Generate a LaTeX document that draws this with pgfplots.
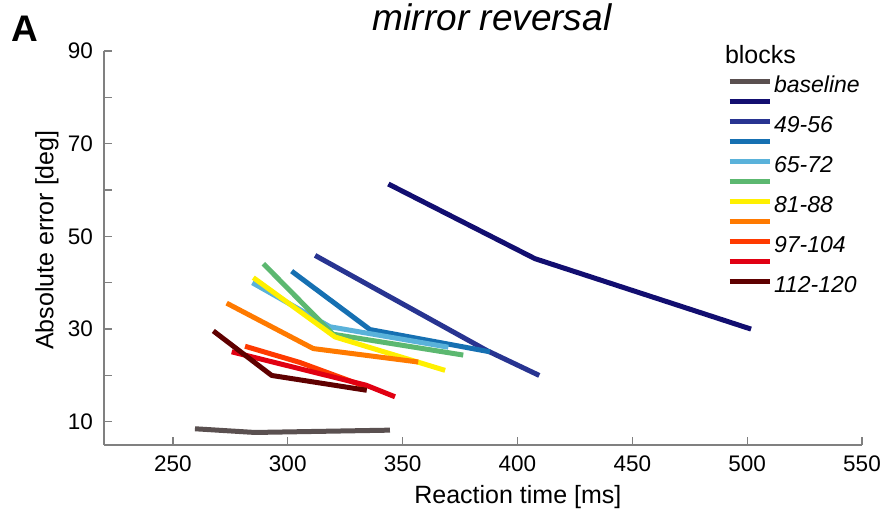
\documentclass[border=0pt]{standalone}
\usepackage{pgfplots}
\pgfplotsset{compat=1.18}
\usepackage{fontspec}
\setmainfont{Liberation Sans}
\usetikzlibrary{calc}
\definecolor{cbase}{RGB}{90,80,80}
\definecolor{c1}{RGB}{18,14,112}
\definecolor{c2}{RGB}{40,52,145}
\definecolor{c3}{RGB}{22,112,178}
\definecolor{c4}{RGB}{90,178,218}
\definecolor{c5}{RGB}{92,184,112}
\definecolor{c6}{RGB}{255,240,0}
\definecolor{c7}{RGB}{255,122,0}
\definecolor{c8}{RGB}{255,58,0}
\definecolor{c9}{RGB}{225,0,18}
\definecolor{c10}{RGB}{95,0,0}
\begin{document}
\begin{tikzpicture}
\begin{axis}[name=ax, scale only axis, width=758pt, height=394pt,
  xmin=220, xmax=550, ymin=5, ymax=90, clip=false,
  axis x line*=bottom, axis y line*=left,
  axis line style={draw=black!50, line width=1.3pt, -},
  xtick={250,300,...,550}, ytick={10,20,...,90},
  yticklabels={10,,30,,50,,70,,90},
  tick align=inside, major tick length=8pt,
  tick style={draw=black!50, line width=1.3pt},
  /pgf/number format/assume math mode=true,
  ticklabel style={font=\fontsize{22.5}{27}\selectfont, inner sep=0pt},
  xticklabel style={yshift=-11pt},
  yticklabel style={xshift=-11pt},
  xlabel={Reaction time [ms]}, ylabel={Absolute error [deg]},
  label style={font=\fontsize{25}{30}\selectfont},
  xlabel style={at={(axis description cs:0.546,-0.132)}, anchor=center},
  ylabel style={at={(axis description cs:-0.0752,0.52)}, anchor=center},
  title={\itshape mirror reversal},
  title style={at={(axis description cs:0.512,1.036)}, anchor=base, font=\fontsize{37}{40}\selectfont},
  every axis plot/.append style={line width=5pt, line join=round, line cap=butt},
  legend style={at={(axis description cs:0.822,0.9305)}, anchor=north west, draw=none, fill=none,
    inner sep=0pt, outer sep=0pt, row sep=0pt,
    font=\itshape\fontsize{23}{27}\selectfont,
    nodes={inner sep=0pt, text height=14pt, text depth=6pt}},
  legend cell align=left,
  /tikz/every odd column/.append style={column sep=2pt},
  legend image code/.code={\draw[#1, line width=5pt] (0pt,6.8pt) -- (40pt,6.8pt);},
]
\addplot[cbase] coordinates {(259.6,8.5) (285.7,7.7) (344.5,8.2)};
\addlegendentry{baseline}
\addplot[c1] coordinates {(343.8,61.3) (407.6,45.2) (501.7,30.0)};
\addlegendentry{\mbox{}}
\addplot[c2] coordinates {(311.9,45.9) (386.6,25.4) (409.5,20.0)};
\addlegendentry{49-56}
\addplot[c3] coordinates {(301.7,42.5) (335.8,29.9) (388.0,25.1)};
\addlegendentry{\mbox{}}
\addplot[c4] coordinates {(284.6,40.0) (318.4,30.5) (369.9,26.1)};
\addlegendentry{65-72}
\addplot[c5] coordinates {(289.4,44.1) (319.7,28.9) (376.4,24.4)};
\addlegendentry{\mbox{}}
\addplot[c6] coordinates {(285.0,41.1) (320.6,28.3) (368.5,21.1)};
\addlegendentry{81-88}
\addplot[c7] coordinates {(273.4,35.6) (311.1,25.8) (356.8,22.9)};
\addlegendentry{\mbox{}}
\addplot[c8] coordinates {(281.4,26.3) (305.3,22.8) (334.4,17.5)};
\addlegendentry{97-104}
\addplot[c9] coordinates {(275.6,25.1) (334.1,17.9) (346.7,15.4)};
\addlegendentry{\mbox{}}
\addplot[c10] coordinates {(267.6,29.6) (293.0,20.0) (334.4,16.8)};
\addlegendentry{112-120}
\node[anchor=base west, inner sep=0pt, font=\bfseries\fontsize{37}{40}\selectfont] at (rel axis cs:-0.1227,1.023) {A};
\node[anchor=west, inner sep=0pt, font=\fontsize{25}{30}\selectfont] at (rel axis cs:0.819,0.99) {blocks};
\end{axis}
\pgfresetboundingbox
\path ($(ax.south west)+(-104pt,-76pt)$) rectangle ($(ax.north east)+(25pt,51pt)$);
\end{tikzpicture}
\end{document}
